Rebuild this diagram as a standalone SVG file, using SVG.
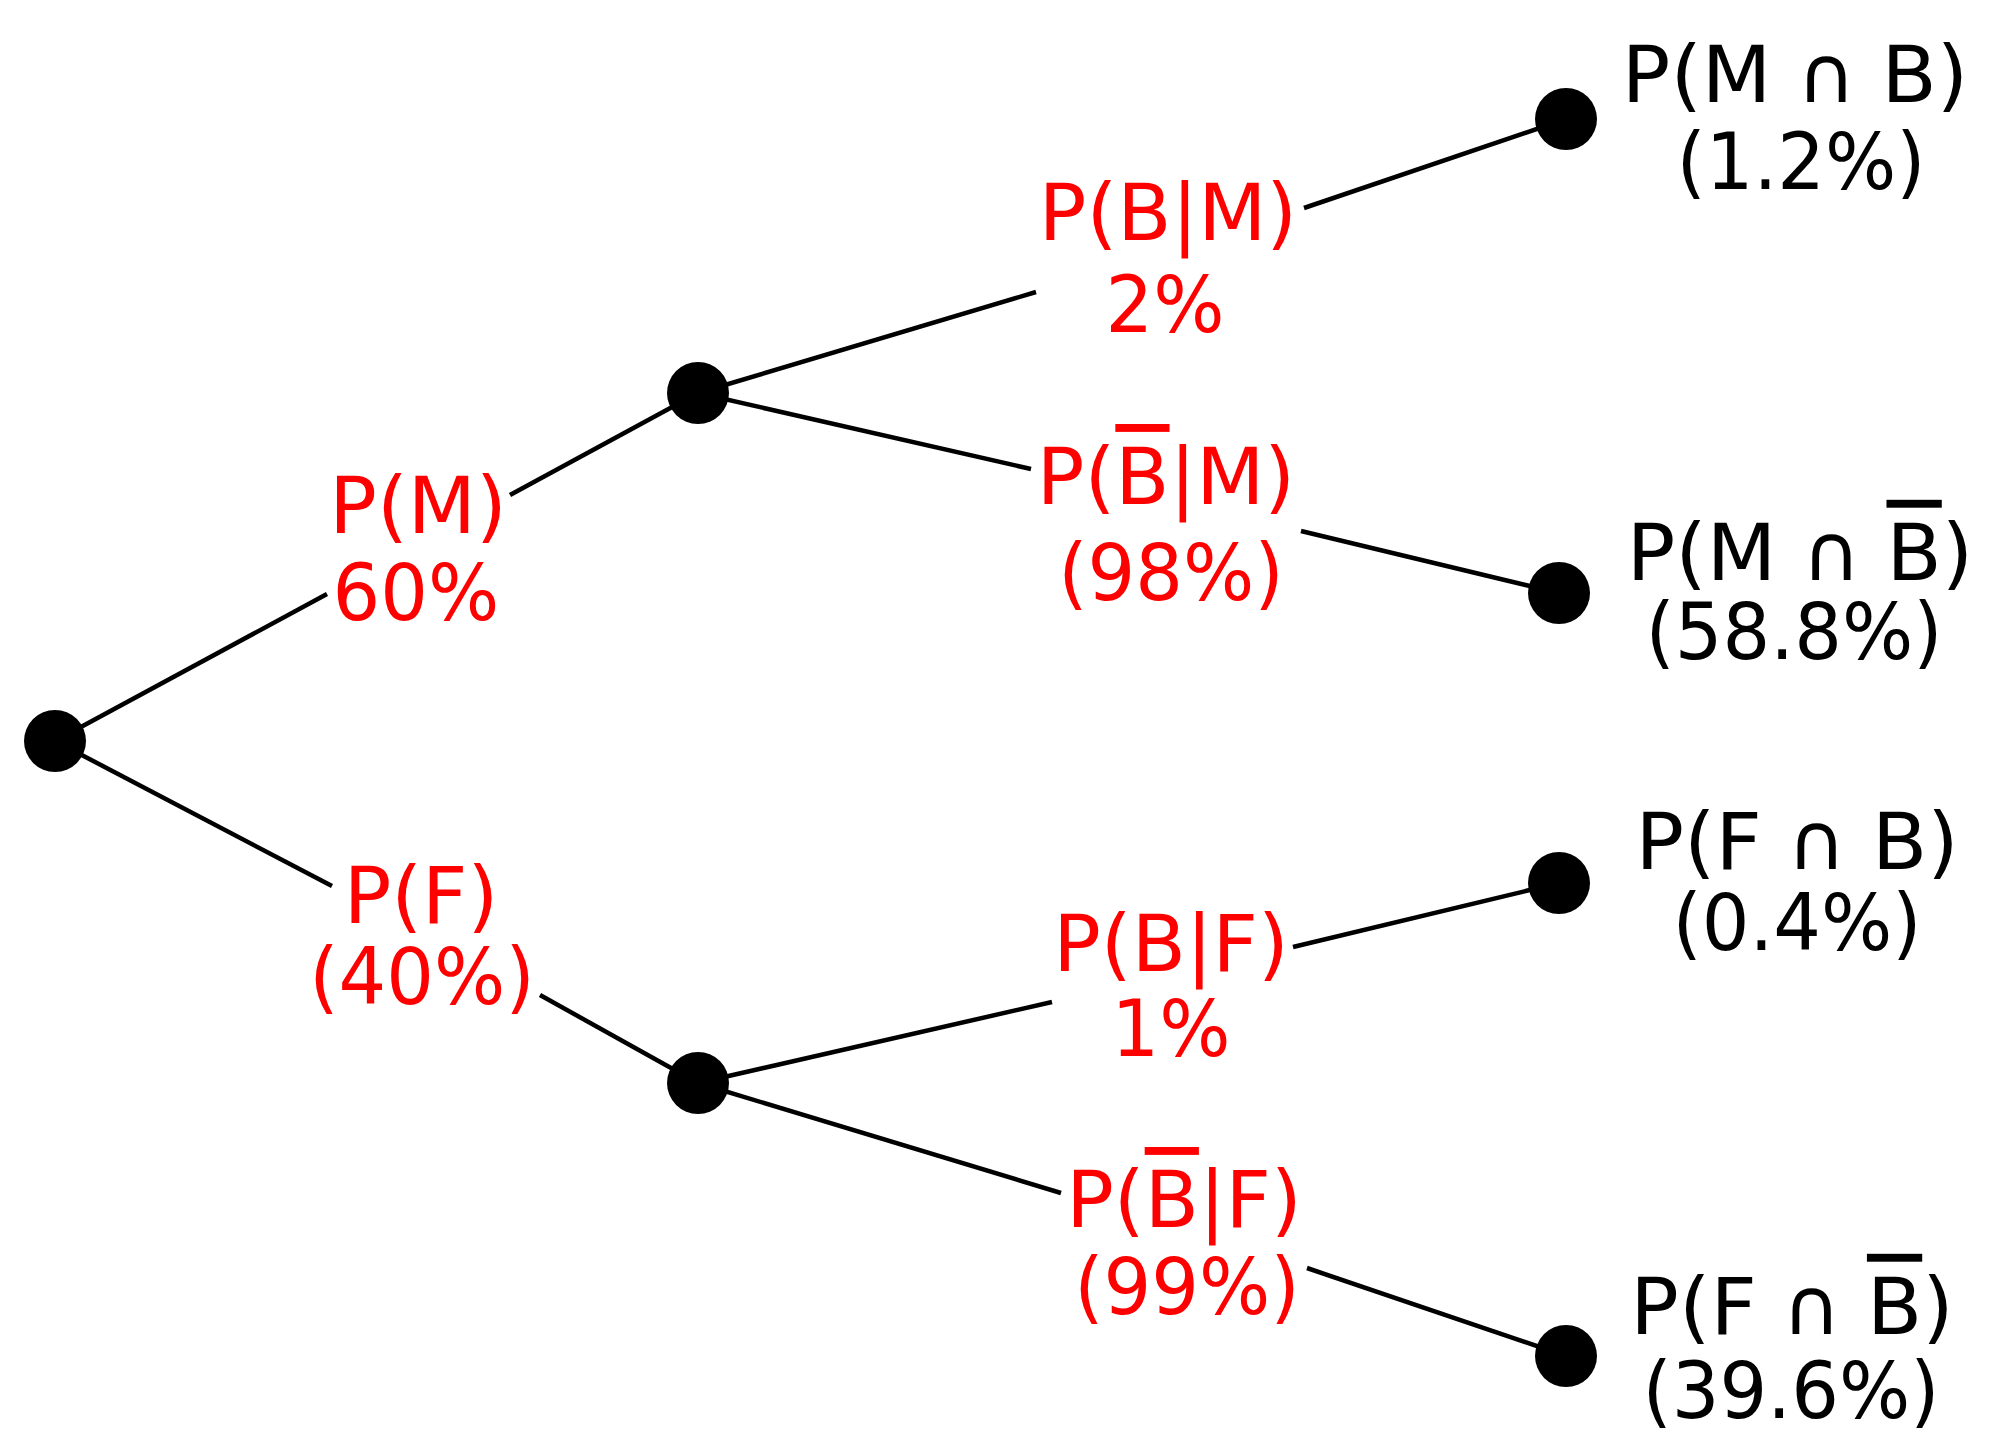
<svg xmlns="http://www.w3.org/2000/svg" width="2000" height="1447" viewBox="0 0 2000 1447">
<style>
.t{font-family:"DejaVu Sans",sans-serif;font-size:79px;text-anchor:middle}
.r{fill:#ff0000}
.k{fill:#000}
.ob{text-decoration:overline}
.e{stroke:#000;stroke-width:4.5;fill:none}
.d{fill:#000}
</style>
<rect width="2000" height="1447" fill="#fff"/>
<g id="connectors">
<line class="e" x1="55" y1="741" x2="327" y2="594"/>
<line class="e" x1="510" y1="495" x2="698" y2="393"/>
<line class="e" x1="55" y1="741" x2="332" y2="886"/>
<line class="e" x1="540" y1="995" x2="698" y2="1083"/>
<line class="e" x1="698" y1="393" x2="1036" y2="292"/>
<line class="e" x1="1304" y1="208" x2="1566" y2="119"/>
<line class="e" x1="698" y1="393" x2="1031" y2="469"/>
<line class="e" x1="1301" y1="531" x2="1559" y2="593"/>
<line class="e" x1="698" y1="1083" x2="1052" y2="1002"/>
<line class="e" x1="1293" y1="947" x2="1559" y2="883"/>
<line class="e" x1="698" y1="1083" x2="1061" y2="1193"/>
<line class="e" x1="1307" y1="1268" x2="1566" y2="1356"/>
</g>
<g id="root"><circle class="d" cx="55" cy="741" r="31"/></g>
<g id="nodeM"><circle class="d" cx="698" cy="393" r="31"/></g>
<g id="nodeF"><circle class="d" cx="698" cy="1083" r="31"/></g>
<g id="leafMB"><circle class="d" cx="1566" cy="119" r="31"/>
<text class="t k" transform="translate(1795 102) scale(1.02 1)">P(M ∩ B)</text>
<text class="t k" transform="translate(1801 189) scale(0.95 1)">(1.2%)</text></g>
<g id="leafMnB"><circle class="d" cx="1559" cy="593" r="31"/>
<text class="t k" transform="translate(1800 580) scale(1.02 1)">P(M ∩ <tspan class="ob">B</tspan>)</text>
<text class="t k" transform="translate(1794 659) scale(0.95 1)">(58.8%)</text></g>
<g id="leafFB"><circle class="d" cx="1559" cy="883" r="31"/>
<text class="t k" transform="translate(1797 869) scale(1.02 1)">P(F ∩ B)</text>
<text class="t k" transform="translate(1797 950) scale(0.95 1)">(0.4%)</text></g>
<g id="leafFnB"><circle class="d" cx="1566" cy="1356" r="31"/>
<text class="t k" transform="translate(1792 1334) scale(1.02 1)">P(F ∩ <tspan class="ob">B</tspan>)</text>
<text class="t k" transform="translate(1791 1418) scale(0.95 1)">(39.6%)</text></g>
<g id="labelM">
<text class="t r" x="418" y="533">P(M)</text>
<text class="t r" transform="translate(416 620) scale(0.95 1)">60%</text></g>
<g id="labelF">
<text class="t r" x="421" y="923">P(F)</text>
<text class="t r" transform="translate(422 1004) scale(0.95 1)">(40%)</text></g>
<g id="labelBM">
<text class="t r" x="1168" y="240">P(B|M)</text>
<text class="t r" transform="translate(1165 332) scale(0.95 1)">2%</text></g>
<g id="labelnBM">
<text class="t r" x="1166" y="504">P(<tspan class="ob">B</tspan>|M)</text>
<text class="t r" transform="translate(1171 600) scale(0.95 1)">(98%)</text></g>
<g id="labelBF">
<text class="t r" x="1171" y="971">P(B|F)</text>
<text class="t r" transform="translate(1171 1056) scale(0.95 1)">1%</text></g>
<g id="labelnBF">
<text class="t r" x="1184" y="1227">P(<tspan class="ob">B</tspan>|F)</text>
<text class="t r" transform="translate(1187 1314) scale(0.95 1)">(99%)</text></g>
</svg>
